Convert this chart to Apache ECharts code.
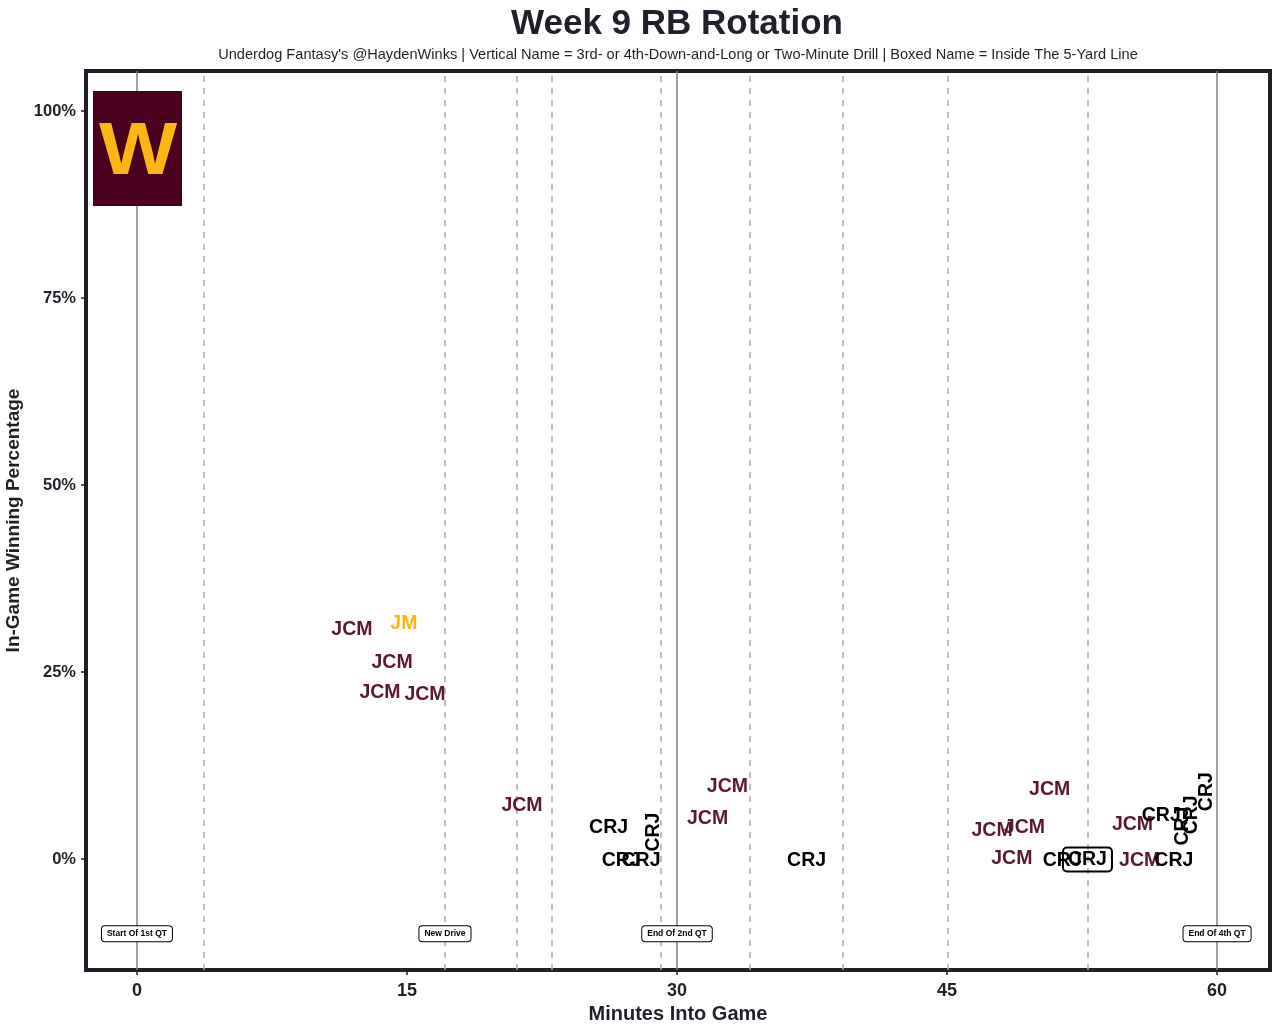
<!DOCTYPE html>
<html>
<head>
<meta charset="utf-8">
<script src="https://cdn.jsdelivr.net/npm/echarts@6/dist/echarts.min.js"></script>
<style>
html,body{margin:0;padding:0;background:#fff;}
#chart{width:1280px;height:1030px;}
</style>
</head>
<body>
<div id="chart"></div>
<script>
// ---- Data ----
const playerNames   = ['JCM','JM','JCM','JCM','JCM','JCM','CRJ','CRJ','CRJ','CRJ','JCM','JCM','CRJ','JCM','JCM','JCM','JCM','CRJ','CRJ','JCM','JCM','CRJ','CRJ','CRJ','CRJ','CRJ'];
const playMinutes   = [11.94,14.83,14.17,13.5,16.0,21.39,26.2,26.9,28.0,28.7,31.7,32.8,37.2,47.5,48.6,49.3,50.7,51.4,52.8,55.3,55.7,56.9,57.6,58.1,58.6,59.4];
const playWinPct    = [30.9,31.8,26.5,22.5,22.2,7.35,4.4,0,0,3.6,5.6,9.9,0,4.1,0.3,4.4,9.5,0,0.2,4.9,0,6.1,0,4.4,5.9,9.0];
const playVertical  = [0,0,0,0,0,0,0,0,0,1,0,0,0,0,0,0,0,0,0,0,0,0,0,1,1,1];
const playBoxed     = [0,0,0,0,0,0,0,0,0,0,0,0,0,0,0,0,0,0,1,0,0,0,0,0,0,0];
const playerColors  = {JCM:'#5A1A2C', JM:'#FFB612', CRJ:'#000000'};

const quarterLines  = [0,30,60];
const driveLines    = [3.72,17.11,21.11,23.06,29.11,34.06,39.22,45.06,52.83];
const noteMinutes   = [0,17.11,30,60];
const noteY         = -10;
const noteTexts     = ['Start Of 1st QT','New Drive','End Of 2nd QT','End Of 4th QT'];

const xTicks = [0,15,30,45,60];
const yTicks = [0,25,50,75,100];

// ---- Chart ----
const chart = echarts.init(document.getElementById('chart'));
const ink = '#1f2029';
const FONT = 'Liberation Sans';

const playData = playerNames.map((n,i)=>({
  value:[playMinutes[i], playWinPct[i]],
  name:n,
  label:Object.assign({
    show:true, formatter:n, position:'inside', offset: playVertical[i] ? [0,0] : [0,2],
    color:playerColors[n], fontSize:19.5, fontWeight:'bold', fontFamily:FONT,
    rotate: playVertical[i] ? 90 : 0
  }, playBoxed[i] ? {borderColor:'#000', borderWidth:1, borderRadius:4, padding:[2,5], backgroundColor:'rgba(255,255,255,0)'} : {})
}));

const option = {
  backgroundColor:'#fff',
  animation:false,
  title:[
    {text:'Week 9 RB Rotation', left:672, top:2, textAlign:'center',
     textStyle:{fontSize:35, fontWeight:'bold', color:ink, fontFamily:FONT}},
    {text:"Underdog Fantasy's @HaydenWinks | Vertical Name = 3rd- or 4th-Down-and-Long or Two-Minute Drill | Boxed Name = Inside The 5-Yard Line",
     left:673, top:42, textAlign:'center',
     textStyle:{fontSize:14.6, fontWeight:'normal', color:ink, fontFamily:FONT}}
  ],
  grid:{left:86, right:10, top:71, bottom:60, show:true, borderColor:ink, borderWidth:4, backgroundColor:'#fff',
        containLabel:false, outerBoundsMode:'none'},
  xAxis:{
    type:'value', min:-2.83, max:62.94,
    name:'Minutes Into Game', nameLocation:'middle', nameGap:27,
    nameTextStyle:{fontSize:20, fontWeight:'bold', color:ink, fontFamily:FONT},
    axisLine:{show:false, onZero:false},
    splitLine:{show:false},
    axisTick:{show:true, customValues:xTicks, length:5, lineStyle:{color:ink, width:1.5}},
    axisLabel:{customValues:xTicks, fontSize:18, fontWeight:'bold', color:ink, fontFamily:FONT, margin:12}
  },
  yAxis:{
    type:'value', min:-14.84, max:105.35,
    name:'In-Game Winning Percentage', nameLocation:'middle', nameGap:55,
    nameTextStyle:{fontSize:19, fontWeight:'bold', color:ink, fontFamily:FONT},
    axisLine:{show:false, onZero:false},
    splitLine:{show:false},
    axisTick:{show:true, customValues:yTicks, length:5, lineStyle:{color:ink, width:1.5}},
    axisLabel:{customValues:yTicks, formatter:'{value}%', fontSize:16.5, fontWeight:'bold', color:ink, fontFamily:FONT, margin:10}
  },
  graphic:[
    {type:'rect', left:93, top:91, shape:{width:89, height:115}, style:{fill:'#4A001C'}, z:100},
    {type:'text', x:138, y:154, scaleX:1.12, style:{text:'W', fill:'#FFB612', font:'900 74px "Liberation Sans"', align:'center', verticalAlign:'middle'}, z:101}
  ],
  series:[
    {type:'line', data:[], silent:true, z:1,
     markLine:{symbol:'none', silent:true, label:{show:false},
       lineStyle:{color:'#808080', width:1.5, type:'solid'},
       data:quarterLines.map(v=>({xAxis:v}))}},
    {type:'line', data:[], silent:true, z:1,
     markLine:{symbol:'none', silent:true, label:{show:false},
       lineStyle:{color:'#aaaaaa', width:1.5, type:[6,6]},
       data:driveLines.map(v=>({xAxis:v}))}},
    {type:'scatter', symbolSize:0, silent:true, z:10, itemStyle:{opacity:1},
     data:noteMinutes.map((m,i)=>({value:[m,noteY], name:noteTexts[i]})),
     label:{show:true, position:'inside', formatter:p=>p.name, fontSize:8.5, fontWeight:'bold', color:'#000', fontFamily:FONT,
       backgroundColor:'#fff', borderColor:'#000', borderWidth:1, borderRadius:3, padding:[3,5]}},
    {type:'scatter', symbolSize:0, silent:true, z:11, itemStyle:{opacity:1}, data:playData}
  ]
};
chart.setOption(option);
</script>
</body>
</html>
